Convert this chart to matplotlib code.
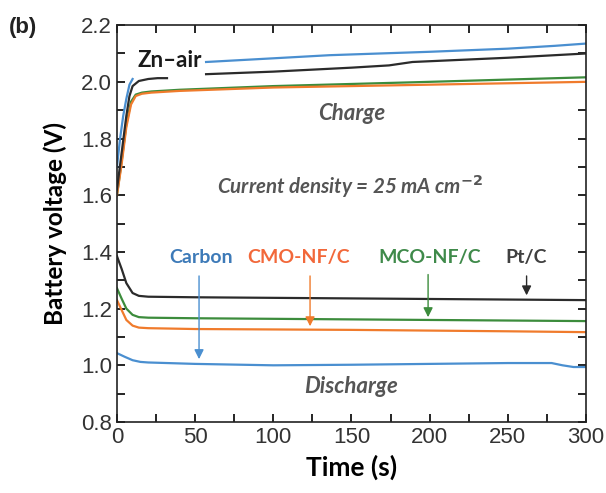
import matplotlib
matplotlib.use("Agg")
import matplotlib.pyplot as plt
from matplotlib.ticker import MultipleLocator

# charge curves (the Zn-air label breaks the blue and black lines)
t_blue_c1 = [0, 2, 4, 6, 8, 10]
v_blue_c1 = [1.70, 1.80, 1.88, 1.94, 1.99, 2.01]
t_blue_c2 = [57, 100, 136, 200, 250, 280, 300]
v_blue_c2 = [2.07, 2.083, 2.094, 2.106, 2.117, 2.127, 2.135]

t_black_c1 = [0, 3, 6, 8, 10, 14, 20, 26, 32]
v_black_c1 = [1.62, 1.75, 1.88, 1.95, 1.985, 2.003, 2.01, 2.013, 2.013]
t_black_c2 = [57, 100, 150, 174, 189, 250, 300]
v_black_c2 = [2.027, 2.036, 2.05, 2.058, 2.07, 2.085, 2.10]

t_c = [0, 3, 6, 9, 12, 16, 22, 40, 100, 200, 300]
v_green_c = [1.60, 1.72, 1.85, 1.93, 1.955, 1.962, 1.966, 1.972, 1.985, 2.0, 2.016]
v_orange_c = [1.60, 1.71, 1.84, 1.92, 1.95, 1.958, 1.962, 1.968, 1.98, 1.99, 2.0]

# discharge curves
t_d = [0, 3, 6, 10, 14, 20, 50, 150, 250, 300]
v_black_d = [1.385, 1.34, 1.29, 1.255, 1.245, 1.242, 1.24, 1.236, 1.232, 1.23]
v_green_d = [1.272, 1.235, 1.2, 1.178, 1.17, 1.168, 1.166, 1.162, 1.158, 1.156]
v_orange_d = [1.23, 1.195, 1.16, 1.14, 1.133, 1.131, 1.128, 1.125, 1.12, 1.117]
t_blue_d = [0, 5, 10, 15, 20, 50, 100, 150, 200, 250, 278, 285, 292, 300]
v_blue_d = [1.043, 1.03, 1.018, 1.012, 1.01, 1.005, 1.0, 1.002, 1.005, 1.008, 1.008, 1.0, 0.994, 0.994]

# labels with arrows: name, text x, arrow x, arrow start y, arrow end y
names = ["Carbon", "CMO-NF/C", "MCO-NF/C", "Pt/C"]
name_x = [54, 116, 200, 262]
arrow_x = [52.5, 123.5, 199, 262]
arrow_y0 = [1.325, 1.325, 1.33, 1.325]
arrow_y1 = [1.012, 1.128, 1.16, 1.237]

blue = "#4a8fd0"
orange = "#f07b2c"
green = "#3c8c3c"
black = "#2b2b2b"
text_cols = ["#3d7ab8", "#f2683a", "#3f8a4a", "#404040"]
arrow_cols = [blue, orange, green, black]

fig = plt.figure(figsize=(6.06, 4.93), dpi=100)
ax = fig.add_axes([0.193, 0.144, 0.774, 0.805])

lw = 1.6
ax.plot(t_c, v_green_c, color=green, lw=lw)
ax.plot(t_c, v_orange_c, color=orange, lw=lw)
ax.plot(t_black_c1, v_black_c1, color=black, lw=lw)
ax.plot(t_black_c2, v_black_c2, color=black, lw=lw)
ax.plot(t_blue_c1, v_blue_c1, color=blue, lw=lw)
ax.plot(t_blue_c2, v_blue_c2, color=blue, lw=lw)

ax.plot(t_d, v_black_d, color=black, lw=lw)
ax.plot(t_d, v_green_d, color=green, lw=lw)
ax.plot(t_d, v_orange_d, color=orange, lw=lw)
ax.plot(t_blue_d, v_blue_d, color=blue, lw=lw)

for i in range(len(names)):
    ax.text(name_x[i], 1.38, names[i], color=text_cols[i], fontsize=14,
            fontweight="bold", family="Lato", ha="center", va="center")
    ax.annotate("", xy=(arrow_x[i], arrow_y1[i]), xytext=(arrow_x[i], arrow_y0[i]),
                arrowprops=dict(arrowstyle="-|>", color=arrow_cols[i], lw=1.0,
                                mutation_scale=14))

ax.text(34, 2.077, "Zn\u2013air", fontsize=16, fontweight="bold", family="Lato",
        ha="center", va="center", color="#1a1a1a")
ax.text(150, 1.89, "Charge", fontsize=16, fontweight="bold", style="italic",
        family="Lato", ha="center", va="center", color="#555555")
ax.text(149, 1.632, "Current density = 25 mA cm$^{\\mathbf{-2}}$", fontsize=14.8,
        fontweight="bold", style="italic", family="Lato", ha="center",
        va="center", color="#555555")
ax.text(150, 0.927, "Discharge", fontsize=16, fontweight="bold", style="italic",
        family="Lato", ha="center", va="center", color="#555555")

ax.set_xlim(0, 300)
ax.set_ylim(0.8, 2.2)
ax.xaxis.set_major_locator(MultipleLocator(50))
ax.xaxis.set_minor_locator(MultipleLocator(25))
ax.yaxis.set_major_locator(MultipleLocator(0.2))
ax.yaxis.set_minor_locator(MultipleLocator(0.1))
ax.yaxis.set_major_formatter(matplotlib.ticker.FormatStrFormatter("%.1f"))
ax.tick_params(which="both", direction="in", top=True, right=True,
               length=6, width=1.2, labelsize=16, labelcolor="#333333")
for lab in ax.get_xticklabels() + ax.get_yticklabels():
    lab.set_family("Liberation Sans")
for s in ax.spines.values():
    s.set_linewidth(1.2)
    s.set_color("#222222")

ax.set_xlabel("Time (s)", fontsize=19, fontweight="bold", family="Lato", labelpad=5)
ax.set_ylabel("Battery voltage (V)", fontsize=17.5, fontweight="bold", family="Lato",
              labelpad=10)

fig.text(0.015, 0.945, "(b)", fontsize=16, fontweight="bold", family="Liberation Sans",
         va="center", ha="left", color="#222222")

fig.savefig("out.png", dpi=100)
